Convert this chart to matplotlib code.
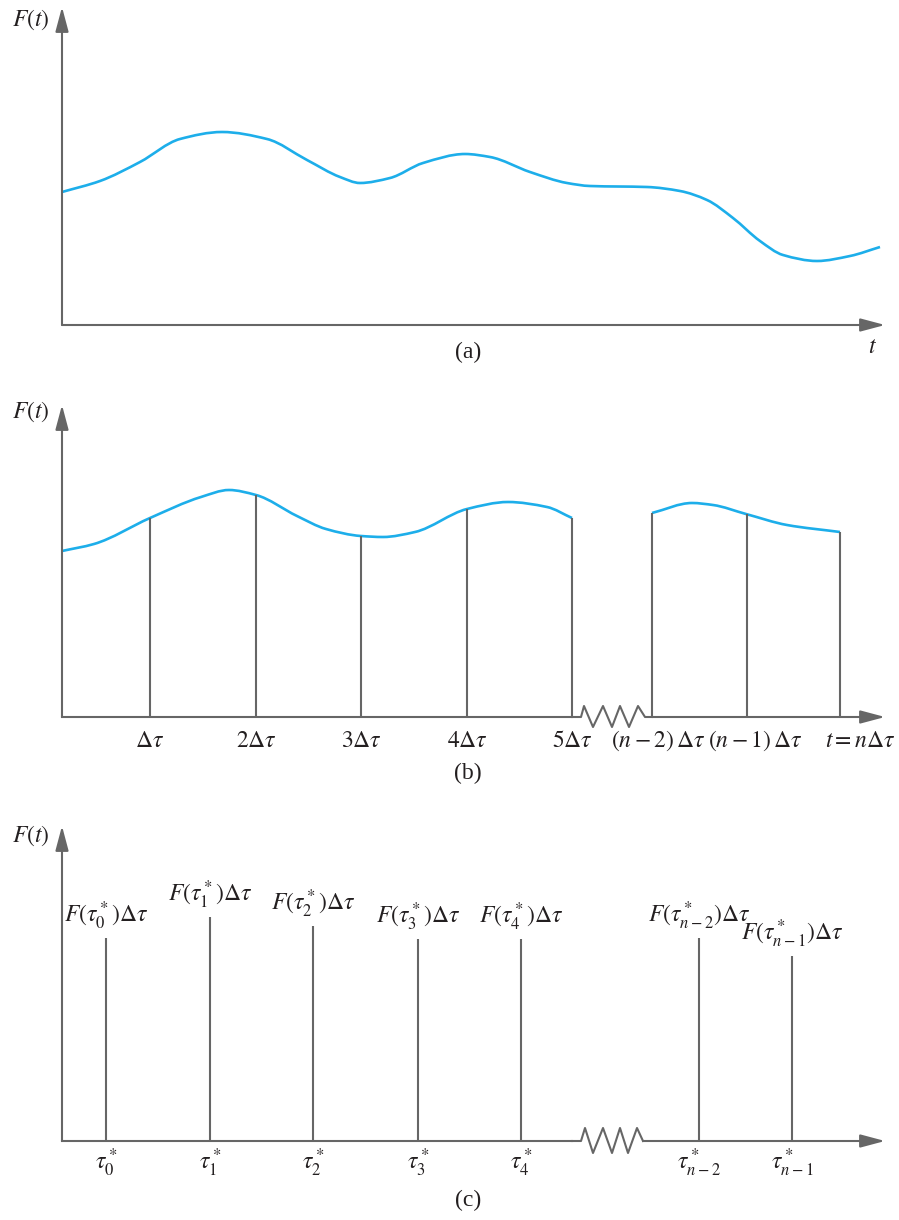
import matplotlib
matplotlib.use('Agg')
import matplotlib.pyplot as plt
from matplotlib.path import Path
from matplotlib.patches import PathPatch

plt.rcParams['font.family'] = ['Liberation Serif', 'DejaVu Serif']
plt.rcParams['mathtext.fontset'] = 'stix'

# ============================================================
# DATA (units = picture pixels from each panel's origin, t right, F up)
# ============================================================
# (a) continuous F(t)
CURVE_A_T = [0, 38, 78, 118, 160, 205, 245, 278, 298, 328, 361, 403, 428, 468,
             505, 528, 585, 618, 645, 671, 698, 721, 755, 788, 818]
CURVE_A_F = [133, 144, 163, 186, 193, 186, 165, 148, 142, 147, 162, 171, 168, 153,
             142, 139, 138, 134, 125, 107, 84, 70, 64, 69, 78]

# (b) sampled segments
CURVE_B1_T = [0, 32, 88, 139, 167, 194, 235, 264, 299, 321, 353, 405, 446, 485, 510]
CURVE_B1_F = [166, 173, 199, 220, 227, 222, 201, 188, 181, 180, 185, 208, 215, 210, 199]
CURVE_B2_T = [590, 630, 651, 684, 725, 778]
CURVE_B2_F = [204, 214, 212, 203, 192, 185]

STEMS_B_T = [88, 194, 299, 405, 510, 590, 685, 778]
STEMS_B_F = [199, 222, 181, 208, 199, 204, 203, 185]
TICKS_B_T = [88, 194, 299, 405, 510, 596, 693, 798]
TICKS_B_LABELS = [r'$\Delta\tau$', r'$2\Delta\tau$', r'$3\Delta\tau$', r'$4\Delta\tau$',
                  r'$5\Delta\tau$', r'$(n-2)\,\Delta\tau$', r'$(n-1)\,\Delta\tau$',
                  r'$t = n\Delta\tau$']
ZIG_B_T = [510, 519, 522, 531, 541, 550, 558, 567, 576, 583, 590]
ZIG_B_F = [0, 0, 11, -10, 11, -10, 11, -10, 11, 0, 0]

# (c) impulses
STEMS_C_T = [44, 148, 251, 356, 459, 637, 730]
STEMS_C_F = [203, 224, 215, 202, 202, 203, 185]
STEM_C_LABELS = [r'$F(\tau_0^*)\Delta\tau$', r'$F(\tau_1^*)\Delta\tau$',
                 r'$F(\tau_2^*)\Delta\tau$', r'$F(\tau_3^*)\Delta\tau$',
                 r'$F(\tau_4^*)\Delta\tau$', r'$F(\tau_{n-2}^*)\Delta\tau$',
                 r'$F(\tau_{n-1}^*)\Delta\tau$']
TICKS_C_LABELS = [r'$\tau_0^*$', r'$\tau_1^*$', r'$\tau_2^*$', r'$\tau_3^*$',
                  r'$\tau_4^*$', r'$\tau_{n-2}^*$', r'$\tau_{n-1}^*$']
ZIG_C_T = [510, 519, 523, 531, 541, 550, 558, 566, 575, 581]
ZIG_C_F = [0, 0, 13, -12, 13, -12, 13, -12, 13, 0]

# ============================================================
# STYLE
# ============================================================
W, H = 899, 1220
BLUE = '#1daeea'
AXIS = '#666666'
TXT = '#231f20'
FS = 17
X_END = 823
Y_END = 318


def panel(fig, top, bottom, origin):
    ax = fig.add_axes([0, 1 - bottom / H, 1, (bottom - top) / H])
    ax.set_xlim(-62, W - 62)
    ax.set_ylim(-(bottom - origin), origin - top)
    ax.axis('off')
    return ax


def arrow(ax, start, end):
    ax.annotate('', xy=end, xytext=start,
                arrowprops=dict(arrowstyle='-|>,head_length=0.75,head_width=0.2',
                                mutation_scale=20, lw=1.5, color=AXIS,
                                shrinkA=0, shrinkB=0))


def smooth_curve(ax, xs, ys, **kw):
    """Courbe lisse (Hermite monotone, segments de Bezier) passant par les points lus"""
    n = len(xs)
    d = [(ys[i + 1] - ys[i]) / (xs[i + 1] - xs[i]) for i in range(n - 1)]
    m = [d[0]] + [0.0] * (n - 2) + [d[-1]]
    for i in range(1, n - 1):
        if d[i - 1] * d[i] > 0:
            h0 = xs[i] - xs[i - 1]
            h1 = xs[i + 1] - xs[i]
            w1, w2 = 2 * h1 + h0, h1 + 2 * h0
            m[i] = (w1 + w2) / (w1 / d[i - 1] + w2 / d[i])
    verts = [(xs[0], ys[0])]
    codes = [Path.MOVETO]
    for i in range(n - 1):
        h = (xs[i + 1] - xs[i]) / 3
        verts += [(xs[i] + h, ys[i] + m[i] * h),
                  (xs[i + 1] - h, ys[i + 1] - m[i + 1] * h),
                  (xs[i + 1], ys[i + 1])]
        codes += [Path.CURVE4] * 3
    ax.add_patch(PathPatch(Path(verts, codes), fill=False, **kw))


def ylabel(ax):
    ax.text(-31, 305, r'$F(t)$', fontsize=FS, color=TXT, ha='center', va='center')


fig = plt.figure(figsize=(W / 100, H / 100), dpi=100)

# ---------------- (a) ----------------
ax = panel(fig, 0, 385, 325)
arrow(ax, (0, 0), (0, Y_END))
arrow(ax, (0, 0), (X_END, 0))
smooth_curve(ax, CURVE_A_T, CURVE_A_F, edgecolor=BLUE, lw=1.9)
ylabel(ax)
ax.text(811, -22, r'$t$', fontsize=FS, color=TXT, ha='center', va='center')
ax.text(406, -27, '(a)', fontsize=FS, color=TXT, ha='center', va='center')

# ---------------- (b) ----------------
ax = panel(fig, 385, 805, 717)
arrow(ax, (0, 0), (0, Y_END - 6))
ax.plot(ZIG_B_T, ZIG_B_F, color=AXIS, lw=1.5)
ax.plot([0, ZIG_B_T[0]], [0, 0], color=AXIS, lw=1.5)
arrow(ax, (ZIG_B_T[-1], 0), (X_END, 0))
ax.vlines(STEMS_B_T, 0, STEMS_B_F, color=AXIS, lw=1.5)
smooth_curve(ax, CURVE_B1_T, CURVE_B1_F, edgecolor=BLUE, lw=1.9)
smooth_curve(ax, CURVE_B2_T, CURVE_B2_F, edgecolor=BLUE, lw=1.9)
for t, lab in zip(TICKS_B_T, TICKS_B_LABELS):
    ax.text(t, -30, lab, fontsize=FS, color=TXT, ha='center', va='baseline')
ylabel(ax)
ax.text(406, -56, '(b)', fontsize=FS, color=TXT, ha='center', va='center')

# ---------------- (c) ----------------
ax = panel(fig, 805, 1220, 1141)
arrow(ax, (0, 0), (0, Y_END - 3))
ax.plot(ZIG_C_T, ZIG_C_F, color=AXIS, lw=1.5)
ax.plot([0, ZIG_C_T[0]], [0, 0], color=AXIS, lw=1.5)
arrow(ax, (ZIG_C_T[-1], 0), (X_END, 0))
ax.vlines(STEMS_C_T, 0, STEMS_C_F, color=AXIS, lw=1.5)
for t, f, lab in zip(STEMS_C_T, STEMS_C_F, STEM_C_LABELS):
    ax.text(t, f + 15, lab, fontsize=FS, color=TXT, ha='center', va='baseline')
for t, lab in zip(STEMS_C_T, TICKS_C_LABELS):
    ax.text(t, -29, lab, fontsize=FS, color=TXT, ha='center', va='baseline')
ylabel(ax)
ax.text(406, -59, '(c)', fontsize=FS, color=TXT, ha='center', va='center')

fig.savefig('out.png', dpi=100, facecolor='white')
